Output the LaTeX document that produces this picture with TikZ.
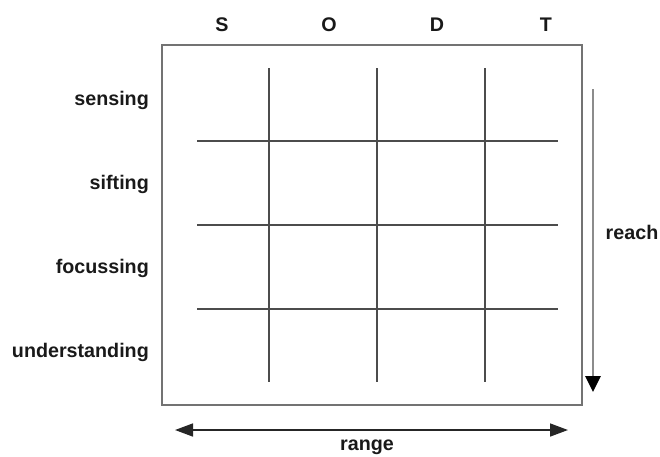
\documentclass[tikz,border=0pt]{standalone}
\usepackage{fontspec}
\setmainfont{Liberation Sans}
\usetikzlibrary{arrows.meta}
\tikzset{
  lbl/.style={font=\bfseries\fontsize{19.7}{22}\selectfont, inner sep=0pt, text=black!90},
  frame/.style={draw=black!55, line width=1.8pt},
  grid line/.style={draw=black!70, line width=1.2pt},
}
\begin{document}
\begin{tikzpicture}[x=1pt,y=-1pt]
\useasboundingbox (0,0) rectangle (660,456);
% outer frame
\node[frame, minimum width=420pt, minimum height=360pt, inner sep=0pt] (box) at (372,225) {};
% column headings
\node[lbl] (s) at (222,25) {S};
\node[lbl] (o) at (329,25) {O};
\node[lbl] (d) at (437,25) {D};
\node[lbl] (t) at (546,25) {T};
% row headings
\node[lbl, anchor=east] (r1) at (149,100) {sensing};
\node[lbl, anchor=east] (r2) at (149,184) {sifting};
\node[lbl, anchor=east] (r3) at (149,268) {focussing};
\node[lbl, anchor=east] (r4) at (149,352) {understanding};
% grid
\foreach \x/\n in {269/a,377/b,485/c} {
  \coordinate (v\n1) at (\x,68);
  \coordinate (v\n2) at (\x,382);
  \draw[grid line] (v\n1) -- (v\n2);
}
\foreach \y/\n in {141/a,225/b,309/c} {
  \coordinate (h\n1) at (197,\y);
  \coordinate (h\n2) at (558,\y);
  \draw[grid line] (h\n1) -- (h\n2);
}
% reach arrow
\coordinate (rs) at (593,89);
\coordinate (re) at (593,392);
\draw[draw=black!45, line width=2.8pt, -{Triangle[length=16pt,width=15pt,color=black]}] (rs) -- (re);
\node[lbl] (reach) at (632,232) {reach};
% range arrow
\coordinate (ga) at (175,430);
\coordinate (gb) at (568,430);
\draw[draw=black!85, line width=1.6pt, {Triangle[length=18pt,width=13pt]}-{Triangle[length=18pt,width=13pt]}] (ga) -- (gb);
\node[lbl] (range) at (367,447) {range};
\end{tikzpicture}
\end{document}
